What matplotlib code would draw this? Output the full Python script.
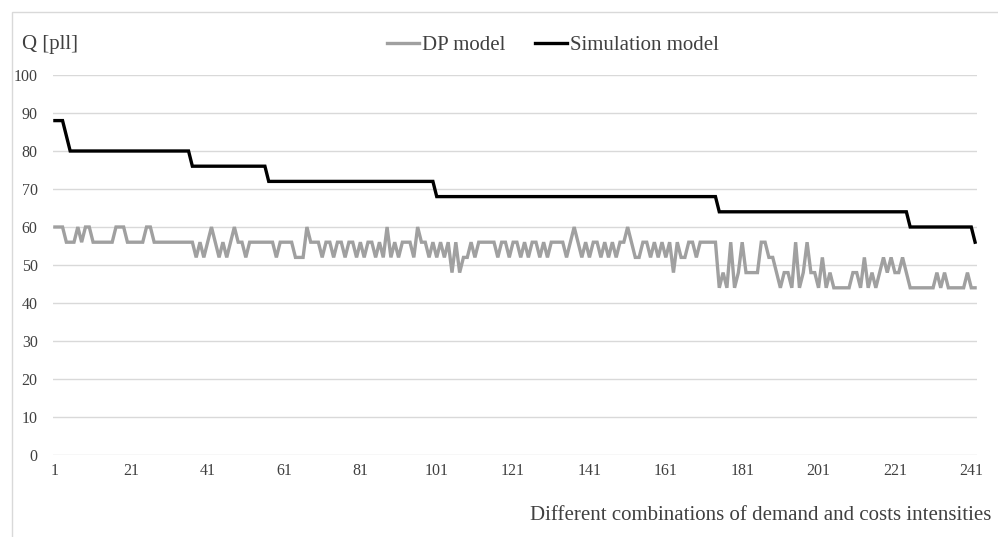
import matplotlib
matplotlib.use("Agg")
import matplotlib.pyplot as plt
from matplotlib.patches import Rectangle

# Data
categories = list(range(1, 243))

# Simulation model (step line)
sim_model = ([88] * 3 + [84] + [80] * 32 + [76] * 20 + [72] * 44 +
             [68] * 74 + [64] * 50 + [60] * 17 + [56])

# DP model, by category range
dp_1_37 = [60, 60, 60, 56, 56, 56, 60, 56, 60, 60, 56, 56, 56, 56, 56, 56,
           60, 60, 60, 56, 56, 56, 56, 56, 60, 60, 56, 56, 56, 56, 56, 56,
           56, 56, 56, 56, 56]
dp_38_80 = [52, 56, 52, 56, 60, 56, 52, 56, 52, 56, 60, 56, 56, 52, 56, 56,
            56, 56, 56, 56, 56, 52, 56, 56, 56, 56, 52, 52, 52, 60, 56, 56,
            56, 52, 56, 56, 52, 56, 56, 52, 56, 56, 52]
dp_81_121 = [56, 52, 56, 56, 52, 56, 52, 60, 52, 56, 52, 56, 56, 56, 52, 60,
             56, 56, 52, 56, 52, 56, 52, 56, 48, 56, 48, 52, 52, 56, 52, 56,
             56, 56, 56, 56, 52, 56, 56, 52, 56]
dp_122_161 = [56, 52, 56, 52, 56, 56, 52, 56, 52, 56, 56, 56, 56, 52, 56, 60,
              56, 52, 56, 52, 56, 56, 52, 56, 52, 56, 52, 56, 56, 60, 56, 52,
              52, 56, 56, 52, 56, 52, 56, 52]
dp_162_201 = [56, 48, 56, 52, 52, 56, 56, 52, 56, 56, 56, 56, 56, 44, 48, 44,
              56, 44, 48, 56, 48, 48, 48, 48, 56, 56, 52, 52, 48, 44, 48, 48,
              44, 56, 44, 48, 56, 48, 48, 44]
dp_202_242 = [52, 44, 48, 44, 44, 44, 44, 44, 48, 48, 44, 52, 44, 48, 44, 48,
              52, 48, 52, 48, 48, 52, 48, 44, 44, 44, 44, 44, 44, 44, 48, 44,
              48, 44, 44, 44, 44, 44, 48, 44, 44]
dp_model = dp_1_37 + dp_38_80 + dp_81_121 + dp_122_161 + dp_162_201 + dp_202_242

y_ticks = list(range(0, 101, 10))
x_ticks = list(range(1, 242, 20))

plt.rcParams['font.family'] = ['Liberation Serif', 'DejaVu Serif']

fig = plt.figure(figsize=(9.98, 5.37), dpi=100)
ax = fig.add_axes([53 / 998, 82 / 537, 924 / 998, 380 / 537])

# Chart frame
fig.add_artist(Rectangle((12 / 998, -0.1), 1.1, 1 - 12 / 537 + 0.1,
                         transform=fig.transFigure, fill=False,
                         edgecolor='#d9d9d9', lw=1))

ax.plot(categories, dp_model, color='#a0a0a0', lw=2.4, label='DP model',
        solid_joinstyle='miter')
ax.plot(categories, sim_model, color='black', lw=2.4, label='Simulation model',
        solid_joinstyle='miter')

ax.set_xlim(0.5, 242.5)
ax.set_ylim(0, 100)
ax.set_yticks(y_ticks)
ax.set_xticks(x_ticks)
ax.grid(axis='y', color='#d9d9d9', lw=1)
ax.set_axisbelow(True)
for s in ax.spines.values():
    s.set_visible(False)
ax.tick_params(axis='both', length=0, labelsize=11.5, colors='#404040')
ax.tick_params(axis='y', pad=11)
ax.tick_params(axis='x', pad=6)

fig.text(22 / 998, 1 - 45 / 537, 'Q [pll]', fontsize=15, color='#404040',
         va='center', ha='left')
fig.text(991 / 998, 1 - 515 / 537,
         'Different combinations of demand and costs intensities',
         fontsize=15, color='#404040', va='center', ha='right')

fig.legend(loc='center', bbox_to_anchor=(553 / 998, 1 - 45 / 537), ncol=2,
           frameon=False, fontsize=15, handlelength=1.55, handletextpad=0.15,
           columnspacing=1.4, labelcolor='#404040')

fig.savefig('out.png', dpi=100)
